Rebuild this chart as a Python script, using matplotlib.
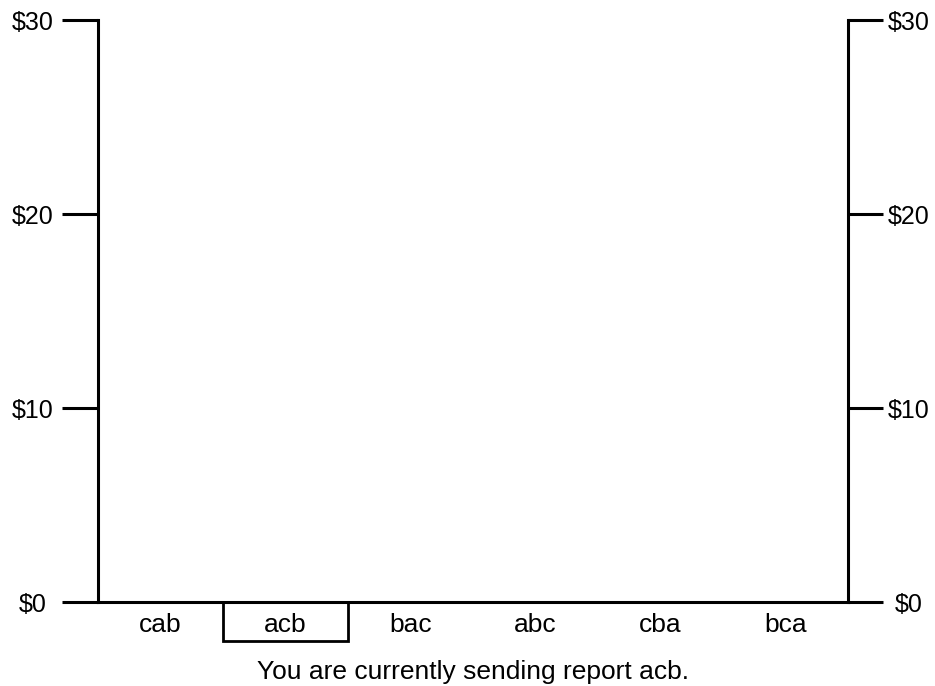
import matplotlib
matplotlib.use("Agg")
import matplotlib.pyplot as plt
from matplotlib.patches import Rectangle
import matplotlib.transforms as mtransforms

categories = ["cab", "acb", "bac", "abc", "cba", "bca"]
values = [0, 0, 0, 0, 0, 0]
ytick_values = [0, 10, 20, 30]
ytick_labels = ["$0", "$10", "$20", "$30"]
selected = "acb"
caption = "You are currently sending report acb."

plt.rcParams['font.family'] = ['Liberation Sans', 'DejaVu Sans']

W, H = 935, 686
fig = plt.figure(figsize=(W/100, H/100), dpi=100)
ax = fig.add_axes([98/W, 1-602/H, 750/W, 582/H])
ax2 = ax.twinx()

x = list(range(len(categories)))
ax.bar(x, values, width=0.8, color="#4472c4")
ax.set_xlim(-0.5, len(categories)-0.5)
ax.set_ylim(0, 30)
ax2.set_ylim(0, 30)

for a in (ax, ax2):
    a.spines['top'].set_visible(False)
    for s in a.spines.values():
        s.set_linewidth(2.2)

ax.spines['right'].set_visible(False)
ax2.spines['left'].set_visible(False)
ax2.spines['bottom'].set_visible(False)
ax2.spines['right'].set_visible(True)

ax.set_yticks(ytick_values, ytick_labels)
ax2.set_yticks(ytick_values, ytick_labels)
ax.tick_params(axis='y', length=26, width=2.2, labelsize=18, pad=21)
ax2.tick_params(axis='y', length=25, width=2.2, labelsize=18, pad=19)
for lab in ax.get_yticklabels():
    lab.set_horizontalalignment('center')
for lab in ax2.get_yticklabels():
    lab.set_horizontalalignment('center')

ax.set_xticks(x, categories)
ax.tick_params(axis='x', length=0, labelsize=19, pad=8)

trans = mtransforms.blended_transform_factory(ax.transData, ax.transAxes)
idx = categories.index(selected)
rect = Rectangle((idx-0.5, -39/582), 1.0, 39/582, transform=trans,
                 fill=False, edgecolor='black', linewidth=2.0, clip_on=False)
ax.add_patch(rect)

ax.text(0.5, -70/582, caption, transform=ax.transAxes, ha='center', va='center', fontsize=19)

fig.savefig("out.png", dpi=100)
